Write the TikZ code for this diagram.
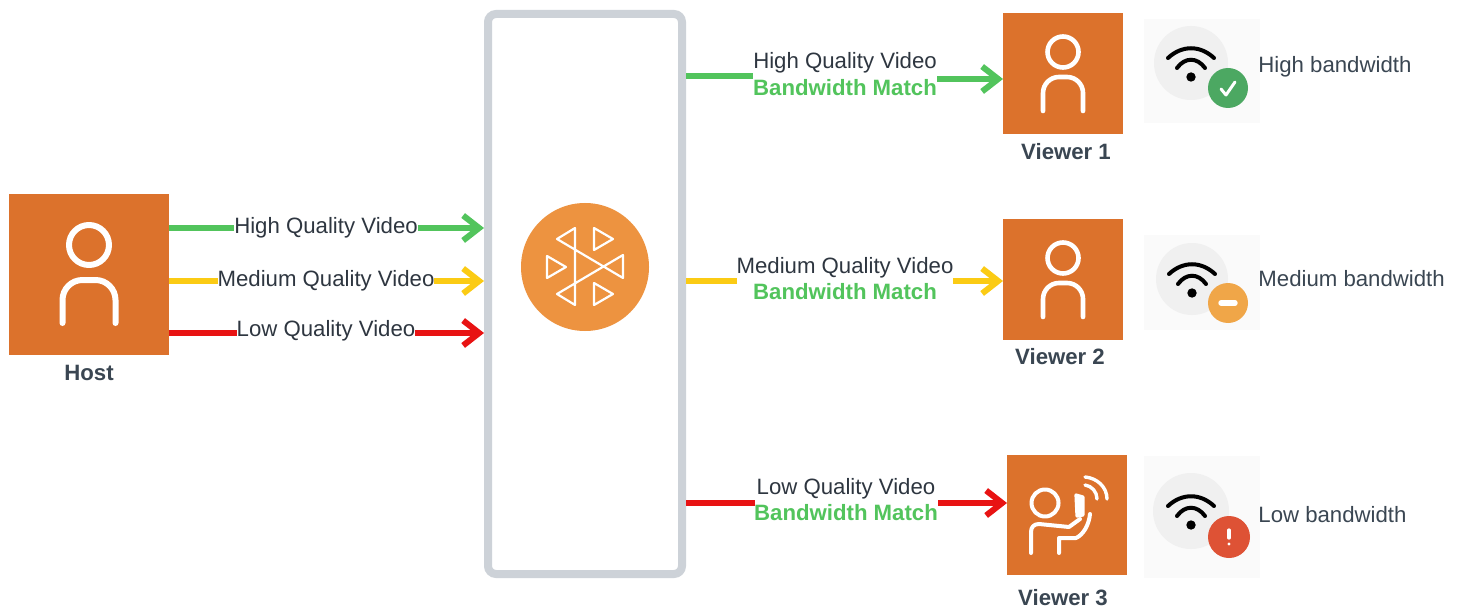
\documentclass[tikz,border=0pt]{standalone}
\usepackage{fontspec}
\setmainfont{Liberation Sans}
\usetikzlibrary{arrows.meta}
\definecolor{cOrange}{HTML}{DC722C}
\definecolor{cOrangeB}{HTML}{ED9340}
\definecolor{cGreen}{HTML}{52C45C}
\definecolor{cYellow}{HTML}{FBCB14}
\definecolor{cRed}{HTML}{E81313}
\definecolor{cBox}{HTML}{CDD2D8}
\definecolor{cText}{HTML}{2E3640}
\definecolor{cLabel}{HTML}{3A4652}
\definecolor{cBadgeG}{HTML}{4CA862}
\definecolor{cBadgeY}{HTML}{F0A648}
\definecolor{cBadgeR}{HTML}{DE5235}
\tikzset{
  x=.5pt,y=-.5pt,
  flow/.style={line width=3pt,-{Straight Barb[length=8pt,width=12.5pt,line width=3pt]}},
  flowplain/.style={line width=3pt},
  vid/.style={font=\fontsize{11.1}{13}\selectfont,text=cText,inner sep=0pt},
  match/.style={font=\fontsize{11.1}{13}\selectfont\bfseries,text=cGreen,inner sep=0pt},
  tile/.style={fill=cOrange,draw=none,inner sep=0pt,minimum width=60pt,minimum height=60.5pt,anchor=north west},
  who/.style={font=\fontsize{11.1}{13}\selectfont\bfseries,text=cLabel,inner sep=0pt},
  band/.style={font=\fontsize{11.1}{13}\selectfont,text=cLabel,inner sep=0pt,anchor=west},
  glyph/.style={draw=white,line cap=round,line join=round,fill=none},
  panel/.style={fill=black!2,draw=none,inner sep=0pt,anchor=north west,minimum width=58pt},
  disc/.style={circle,fill=black!6,draw=none,inner sep=0pt},
  badge/.style={circle,draw=none,inner sep=0pt},
  wave/.style={draw=black,line width=2pt,line cap=round}
}
% #1 cx, #2 head cy, #3 head r, #4 half width, #5 body top, #6 body bottom, #7 corner (pt), #8 stroke
\newcommand{\personglyph}[8]{%
  \draw[glyph,line width=#8] (#1,#2) circle[radius=#3];
  \draw[glyph,line width=#8,rounded corners=#7] (#1-#4,#6) -- (#1-#4,#5) -- (#1+#4,#5) -- (#1+#4,#6);
}
\newcommand{\wifiglyph}[2]{% centre of dot
  \fill[black] (#1,#2) circle[radius=4.7];
  \draw[wave] (#1-14,#2-9) .. controls (#1-6,#2-20) and (#1+6,#2-20) .. (#1+14,#2-9);
  \draw[wave] (#1-23,#2-19) .. controls (#1-9,#2-32) and (#1+9,#2-32) .. (#1+23,#2-19);
}
\begin{document}
\begin{tikzpicture}
\useasboundingbox (0,0) rectangle (1460,609);
\fill[white] (0,0) rectangle (1460,609);

% media box
\node[draw=cBox,line width=4pt,rounded corners=4pt,fill=white,minimum width=97pt,minimum height=280pt,inner sep=0pt] (sfu) at (585,294) {};
\node[circle,fill=cOrangeB,minimum size=64pt,inner sep=0pt] (hub) at (585,267) {};
\begin{scope}[shift={(hub.center)}]
  \draw[glyph,line width=1.1pt] (-10,-39) -- (-28,-28) -- (38,11) -- (38,-12) -- (-28,27) -- (-10,38) -- cycle;
  \draw[glyph,line width=1.1pt] (9,-39) -- (28,-28) -- (9,-17) -- cycle;
  \draw[glyph,line width=1.1pt] (-38,-11) -- (-19,0) -- (-38,11) -- cycle;
  \draw[glyph,line width=1.1pt] (9,16) -- (28,27) -- (9,38) -- cycle;
\end{scope}

% host
\node[tile,minimum width=80pt,minimum height=80.5pt] (host) at (9,194) {};
\personglyph{89}{245}{20}{26.5}{280}{323}{10pt}{3pt}
\node[who] (hostname) at (89,373) {Host};

% viewers
\node[tile] (v1) at (1003,13) {};
\personglyph{1063}{52}{15.5}{20}{77}{111}{8pt}{2.3pt}
\node[who] (v1name) at (1066,152) {Viewer 1};
\node[tile] (v2) at (1003,219) {};
\personglyph{1063}{258}{15.5}{20}{283}{317}{8pt}{2.3pt}
\node[who] (v2name) at (1060,357) {Viewer 2};
\node[tile,minimum height=60pt] (v3) at (1007,455) {};
\begin{scope}[shift={(v3.north west)}]
  \draw[glyph,line width=2pt] (38,48) circle[radius=13.5];
  \draw[glyph,line width=2pt] (24,98) -- (24,77) .. controls (24,72) and (27,69) .. (32,69) -- (62,72) -- (73,64);
  \draw[glyph,line width=2pt] (52,98) -- (52,83) -- (69,83) .. controls (76,80) and (82,70) .. (83,59);
  \draw[glyph,line width=1.6pt,fill=white] (69,40) -- (76,42) -- (76,60) -- (70,61) -- cycle;
  \draw[glyph,line width=1.7pt] (78,30) .. controls (85,31) and (90,37) .. (90,44);
  \draw[glyph,line width=1.7pt] (78,22) .. controls (90,23) and (100,32) .. (100,44);
\end{scope}
\node[who] (v3name) at (1063,598) {Viewer 3};

% flows from host
\coordinate (h1) at (169,228); \coordinate (s1) at (484,228);
\coordinate (h2) at (169,281); \coordinate (s2) at (484,281);
\coordinate (h3) at (169,333); \coordinate (s3) at (484,333);
\draw[flow,cGreen] (h1) -- (s1);
\draw[flow,cYellow] (h2) -- (s2);
\draw[flow,cRed] (h3) -- (s3);
\node[vid,fill=white] (l1) at (326,228) {High Quality Video};
\node[vid,fill=white] (l2) at (326,281) {Medium Quality Video};
\node[vid,fill=white] (l3) at (326,331) {Low Quality Video};

% flows to viewers
\node[vid] (r1) at (845,63) {High Quality Video};
\node[match] (m1) at (845,88) {Bandwidth Match};
\node[vid] (r2) at (845,268) {Medium Quality Video};
\node[match] (m2) at (845,292) {Bandwidth Match};
\node[vid] (r3) at (846,489) {Low Quality Video};
\node[match] (m3) at (846,513) {Bandwidth Match};
\coordinate (o1) at (686,76); \coordinate (a1) at (753,76); \coordinate (b1) at (937,79);
\coordinate (o2) at (686,281); \coordinate (a2) at (737,281); \coordinate (b2) at (953,281);
\coordinate (o3) at (686,503); \coordinate (a3) at (755,503); \coordinate (b3) at (938,503);
\draw[flowplain,cGreen] (o1) -- (a1);
\draw[flow,cGreen] (b1) -- (v1.west |- b1);
\draw[flowplain,cYellow] (o2) -- (a2);
\draw[flow,cYellow] (b2) -- (v2.west |- b2);
\draw[flowplain,cRed] (o3) -- (a3);
\draw[flow,cRed] (b3) -- (v3.west |- b3);

% bandwidth panels
\node[panel,minimum height=52pt] (p1) at (1144,19) {};
\node[disc,minimum size=37pt] (d1) at (1191,63) {};
\wifiglyph{1191}{77}
\node[badge,fill=cBadgeG,minimum size=20pt] (g1) at (1228,88) {};
\draw[draw=white,line width=1.5pt,line cap=round,line join=round] (1221,89) -- (1226,95) -- (1235,82);
\node[band] (t1) at (1258,67) {High bandwidth};

\node[panel,minimum height=47.5pt] (p2) at (1144,235) {};
\node[disc,minimum size=36pt] (d2) at (1192,279) {};
\wifiglyph{1192}{293}
\node[badge,fill=cBadgeY,minimum size=20pt] (g2) at (1228,303) {};
\draw[draw=white,line width=2.7pt,line cap=round] (1221,303) -- (1235,303);
\node[band] (t2) at (1258,279) {Medium bandwidth};

\node[panel,minimum height=61pt] (p3) at (1144,456) {};
\node[disc,minimum size=38pt] (d3) at (1191,511) {};
\wifiglyph{1191}{525}
\node[badge,fill=cBadgeR,minimum size=21pt] (g3) at (1229,537) {};
\draw[draw=white,line width=1.6pt,line cap=round] (1229,530) -- (1229,538);
\fill[white] (1229,544) circle[radius=1.7];
\node[band] (t3) at (1258,515) {Low bandwidth};
\end{tikzpicture}
\end{document}
